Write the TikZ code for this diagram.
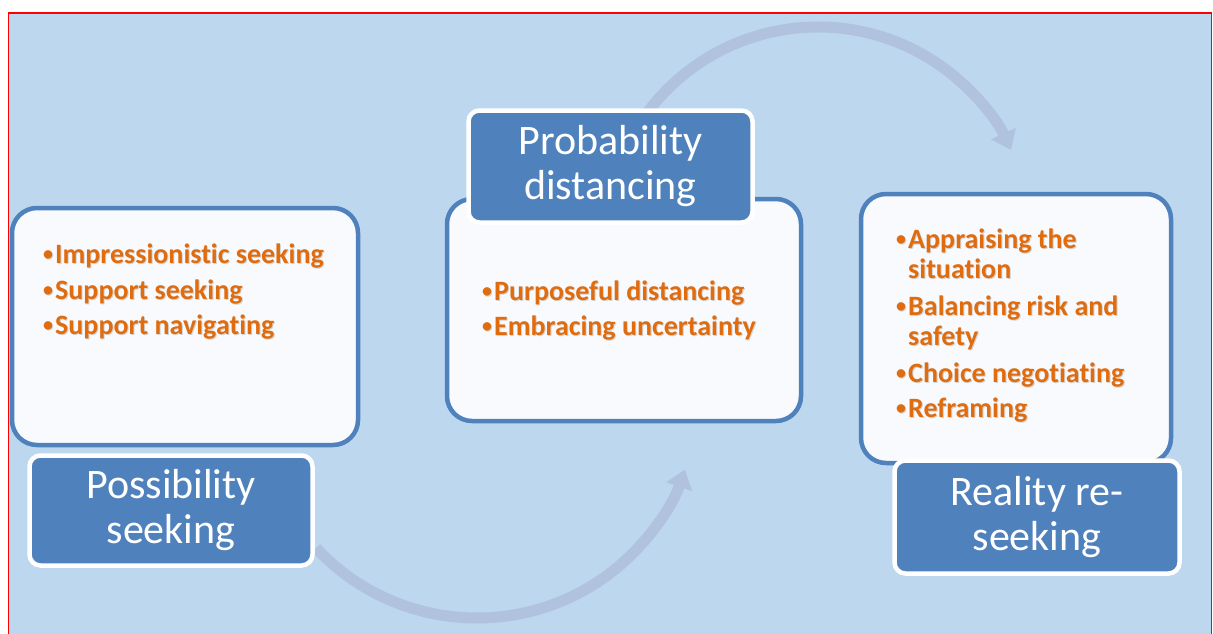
\documentclass[tikz,border=0pt]{standalone}
\usepackage{fontspec}
\setmainfont{Carlito}[Ligatures=NoCommon]
\usetikzlibrary{arrows.meta}
\definecolor{bgblue}{HTML}{BDD7EE}
\definecolor{boxblue}{HTML}{4F81BD}
\definecolor{paper}{HTML}{F8FAFD}
\definecolor{flowc}{HTML}{B0C2DE}
\definecolor{itemc}{HTML}{E06C10}
\definecolor{shadowc}{HTML}{D5D3D0}
\newcommand{\itemshadow}[1]{\leavevmode\rlap{\hspace{1pt}\raisebox{-1.5pt}{\color{shadowc}#1}}#1}
\newcommand{\itembul}{\makebox[14pt][c]{\raisebox{3pt}{\fontsize{20pt}{20pt}\selectfont •}}}
\begin{document}
\begin{tikzpicture}[x=1pt,y=-1pt,
  listbox/.style={draw=boxblue, line width=4.5pt, fill=paper, rounded corners=25pt, inner sep=0pt},
  titlebox/.style={draw=white, line width=4.5pt, fill=boxblue, rounded corners=11pt, text=white, align=center, font=\fontsize{42pt}{45pt}\selectfont, inner sep=0pt},
  item/.style={anchor=base west, inner sep=0pt, text=itemc, font=\bfseries\fontsize{28pt}{30pt}\selectfont},
  flow/.style={draw=flowc, line width=11pt, -{Triangle[length=18pt,width=26pt]}}]
\useasboundingbox (0,0) rectangle (1213,634);
\clip (0,0) rectangle (1213,634);
\fill[white] (0,0) rectangle (1213,634);
\fill[bgblue] (8.5,13) rectangle (1211.5,640);
\draw[red,line width=1.8pt] (8.5,13) rectangle (1211.5,640);
% circular flow arrows
\coordinate (arcA) at (477,398);
\coordinate (arcB) at (818,240);
\draw[flow] ([shift={(137:220)}]arcA) arc[start angle=137, end angle=19, radius=220];
\draw[flow] ([shift={(-143:213)}]arcB) arc[start angle=-143, end angle=-25, radius=213];
% content boxes
\node[listbox, minimum width=346pt, minimum height=237pt] (ls) at (185,326.5) {};
\node[listbox, minimum width=354pt, minimum height=222pt] (ms) at (624,310) {};
\node[listbox, minimum width=310pt, minimum height=269pt] (rs) at (1016,328.5) {};
% title boxes
\node[titlebox, minimum width=283pt, minimum height=110pt] (t1) at (171,510.5) {Possibility\\seeking};
\node[titlebox, minimum width=284pt, minimum height=112pt] (t2) at (610.5,166.5) {Probability\\distancing};
\node[titlebox, minimum width=285pt, minimum height=113pt] (t3) at (1037,517) {Reality re-\\seeking};
% items
\node[item] (l1) at (41,263) {\itemshadow{\itembul Impressionistic seeking}};
\node[item] (l2) at (41,299) {\itemshadow{\itembul Support seeking}};
\node[item] (l3) at (41,334) {\itemshadow{\itembul Support navigating}};
\node[item] (m1) at (480,300) {\itemshadow{\itembul Purposeful distancing}};
\node[item] (m2) at (480,335) {\itemshadow{\itembul Embracing uncertainty}};
\node[item] (r1) at (894,248) {\itemshadow{\itembul Appraising the}};
\node[item] (r1b) at (894,278) {\itemshadow{\hspace{14pt}situation}};
\node[item] (r2) at (894,315) {\itemshadow{\itembul Balancing risk and}};
\node[item] (r2b) at (894,345) {\itemshadow{\hspace{14pt}safety}};
\node[item] (r3) at (894,382) {\itemshadow{\itembul Choice negotiating}};
\node[item] (r4) at (894,417) {\itemshadow{\itembul Reframing}};
\end{tikzpicture}
\end{document}
